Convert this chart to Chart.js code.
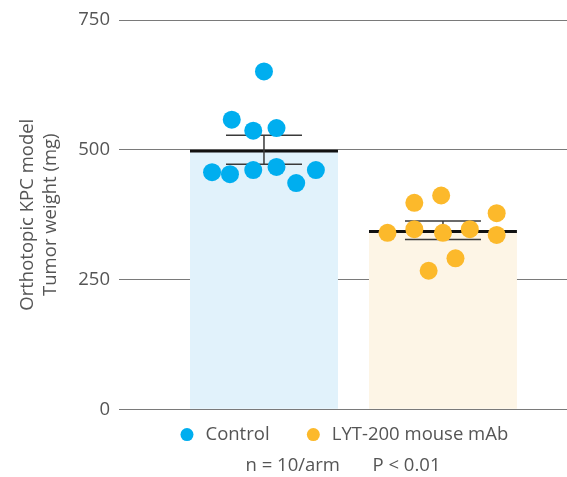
<!DOCTYPE html>
<html>
<head>
<meta charset="utf-8">
<script src="https://cdn.jsdelivr.net/npm/chart.js@4/dist/chart.umd.min.js"></script>
<style>
  html, body { margin: 0; padding: 0; background: #fff; }
  #wrap { width: 567px; height: 477px; }
</style>
</head>
<body>
<div id="wrap"><canvas id="c" width="567" height="477"></canvas></div>
<script>
/* ── DATA ── */
const groups      = ['Control', 'LYT-200 mouse mAb'];
const groupMeans  = [500, 345];
const groupSem    = [28, 18];
const yTicks      = [0, 250, 500, 750];

// individual animals (x = jitter within the group column)
const controlX    = [0.00, -0.18, -0.06, 0.07, -0.29, -0.19, -0.06, 0.07, 0.18, 0.29];
const controlY    = [651, 558, 537, 542, 457, 453, 461, 467, 436, 461];
const lytX        = [-0.31, -0.16, -0.01, 0.30, -0.16, 0.00, 0.15, 0.30, -0.08, 0.07];
const lytY        = [340, 398, 412, 378, 347, 340, 347, 336, 267, 291];

const dotColors   = ['#00AEEF', '#FCB92B'];
const barColors   = ['#E1F2FB', '#FDF5E6'];
const textClr     = '#555';
const gridClr     = '#7a7a7a';
const FONT        = '"Open Sans", "Noto Sans", sans-serif';
const FS          = 18.5;

/* ── ERROR BARS (drawn right after the bars, below the dots) ── */
const errPlugin = {
  id: 'errBars',
  afterDatasetDraw(chart, args) {
    if (chart.data.datasets[args.index].type !== 'bar') return;
    const {ctx, scales: {x, y}} = chart;
    const cap = 38;
    ctx.save();
    ctx.strokeStyle = '#3a3a3a';
    ctx.lineWidth = 1.5;
    groupMeans.forEach((m, i) => {
      const cx = x.getPixelForValue(i);
      const hi = y.getPixelForValue(m + groupSem[i]);
      const lo = y.getPixelForValue(m - groupSem[i]);
      ctx.beginPath();
      ctx.moveTo(cx, hi); ctx.lineTo(cx, lo);
      ctx.moveTo(cx - cap, hi); ctx.lineTo(cx + cap, hi);
      ctx.moveTo(cx - cap, lo); ctx.lineTo(cx + cap, lo);
      ctx.stroke();
    });
    ctx.restore();
  }
};

const pts = (xs, ys, i) => ys.map((v, k) => ({ x: i + xs[k], y: v }));

new Chart(document.getElementById('c').getContext('2d'), {
  type: 'scatter',
  plugins: [errPlugin],
  data: {
    datasets: [
      {
        type: 'scatter',
        label: groups[0] + '\u2003',
        data: pts(controlX, controlY, 0),
        backgroundColor: dotColors[0],
        borderWidth: 0,
        pointRadius: 9,
        pointHoverRadius: 9
      },
      {
        type: 'scatter',
        label: groups[1],
        data: pts(lytX, lytY, 1),
        backgroundColor: dotColors[1],
        borderWidth: 0,
        pointRadius: 9,
        pointHoverRadius: 9
      },
      {
        type: 'bar',
        label: 'mean',
        data: groupMeans.map((m, i) => ({ x: i, y: m })),
        backgroundColor: barColors,
        borderColor: '#111',
        borderWidth: { top: 3, left: 0, right: 0, bottom: 0 },
        borderSkipped: false,
        barThickness: 148
      }
    ]
  },
  options: {
    responsive: false,
    animation: false,
    layout: { autoPadding: false, padding: { top: 20, right: 0, left: 0, bottom: 0 } },
    plugins: {
      tooltip: { enabled: false },
      legend: {
        position: 'bottom',
        fullSize: false,
        labels: {
          filter: item => item.datasetIndex < 2,
          usePointStyle: true,
          pointStyle: 'circle',
          boxHeight: 9.2,
          padding: 16,
          color: textClr,
          font: { size: FS, family: FONT }
        }
      },
      subtitle: {
        display: true,
        position: 'bottom',
        fullSize: false,
        text: 'n = 10/arm \u2003\u2002P < 0.01',
        color: textClr,
        font: { size: FS, family: FONT, weight: 'normal' },
        padding: { top: 1, bottom: 0 }
      }
    },
    scales: {
      x: {
        type: 'linear',
        display: false,
        offset: false,
        min: -0.81,
        max: 1.693
      },
      y: {
        type: 'linear',
        min: 0,
        max: 750,
        afterBuildTicks: s => { s.ticks = yTicks.map(v => ({ value: v })); },
        afterFit: s => { s.width = 119; },
        grid: { color: gridClr, lineWidth: 1, drawTicks: false },
        border: { display: false },
        ticks: { color: textClr, padding: 9, font: { size: FS, family: FONT } },
        title: {
          display: true,
          text: ['Orthotopic KPC model', 'Tumor weight (mg)'],
          color: textClr,
          font: { size: FS, family: FONT, lineHeight: 1.2 },
          padding: { top: 17, bottom: 0 }
        }
      }
    }
  }
});
</script>
</body>
</html>
